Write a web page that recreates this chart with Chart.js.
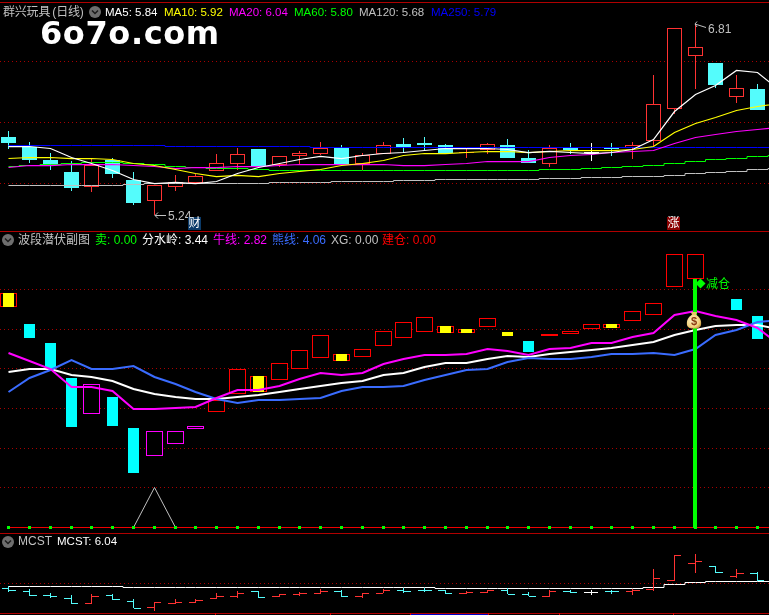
<!DOCTYPE html>
<html lang="zh">
<head>
<meta charset="utf-8">
<title>群兴玩具 日线</title>
<script src="https://cdn.jsdelivr.net/npm/chart.js@4"></script>
<style>
html,body{margin:0;padding:0;background:#000;overflow:hidden}
#stage{position:absolute;left:0;top:0;width:769px;height:615px;background:#000;overflow:hidden}
#stage canvas{position:absolute;left:0;display:block}
.t{position:absolute;white-space:pre;font:12px/14px "Liberation Sans","Noto Sans CJK SC",sans-serif;color:#c0c0c0}
.r1{font-size:11.5px}
.rule{position:absolute;left:0;width:769px;height:1px;background:#b00000}
svg{position:absolute;overflow:visible}
</style>
</head>
<body>
<div id="stage">
<canvas id="priceChart" width="769" height="231" style="top:0"></canvas>
<canvas id="waveChart" width="769" height="301" style="top:232px"></canvas>
<canvas id="mcstChart" width="769" height="79" style="top:534px"></canvas>

<div class="rule" style="top:2px"></div>
<div class="rule" style="top:231px"></div>
<div class="rule" style="top:533px"></div>
<div class="rule" style="top:613px"></div>

<div class="t" style="left:3px;top:5px;letter-spacing:-.2px;word-spacing:-1px">群兴玩具 (日线)</div>
<div class="t r1" style="left:105px;top:5px;color:#fff">MA5: 5.84</div>
<div class="t r1" style="left:164px;top:5px;color:#ff0">MA10: 5.92</div>
<div class="t r1" style="left:229px;top:5px;color:#f0f">MA20: 6.04</div>
<div class="t r1" style="left:294px;top:5px;color:#0f0">MA60: 5.80</div>
<div class="t r1" style="left:359px;top:5px;color:#c0c0c0">MA120: 5.68</div>
<div class="t r1" style="left:431px;top:5px;color:#0000ff">MA250: 5.79</div>

<div class="t" style="left:40px;top:13px;font:bold 32px/40px 'DejaVu Sans';letter-spacing:.6px;color:#fff">6o7o.com</div>

<div class="t" style="left:18px;top:233px">波段潜伏副图</div>
<div class="t" style="left:95px;top:233px;color:#0f0">卖: 0.00</div>
<div class="t" style="left:142px;top:233px;color:#fff">分水岭: 3.44</div>
<div class="t" style="left:213px;top:233px;color:#f0f">牛线: 2.82</div>
<div class="t" style="left:272px;top:233px;color:#3a6cff">熊线: 4.06</div>
<div class="t" style="left:331px;top:233px">XG: 0.00</div>
<div class="t" style="left:382px;top:233px;color:#f00">建仓: 0.00</div>

<div class="t" style="left:18px;top:534px">MCST</div>
<div class="t r1" style="left:57px;top:534px;color:#fff">MCST: 6.04</div>

<svg style="left:0;top:0" width="769" height="615">
  <g id="ic1" transform="translate(95,12)"><circle r="6" fill="#6e6e6e"/><path d="M-3 -1.5L0 1.5L3 -1.5" fill="none" stroke="#1c1c1c" stroke-width="1.5"/></g>
  <g transform="translate(8,240)"><circle r="6" fill="#6e6e6e"/><path d="M-3 -1.5L0 1.5L3 -1.5" fill="none" stroke="#1c1c1c" stroke-width="1.5"/></g>
  <g transform="translate(8,542)"><circle r="6" fill="#6e6e6e"/><path d="M-3 -1.5L0 1.5L3 -1.5" fill="none" stroke="#1c1c1c" stroke-width="1.5"/></g>
  <path d="M166 215.5H155M158 212.5L155 215.5L158 218.5" fill="none" stroke="#c0c0c0"/>
  <path d="M706 27.5L695 24M697 21.5L695 24L697 27" fill="none" stroke="#c0c0c0"/>
  <defs><radialGradient id="bagFill" cx=".4" cy=".4" r=".7"><stop offset="0" stop-color="#fff3c8"/><stop offset=".7" stop-color="#f2cf7a"/><stop offset="1" stop-color="#c08a30"/></radialGradient></defs>
  <g transform="translate(694,320)">
    <path d="M-3 -8L3 -8L2 -5L-2 -5Z" fill="#e9c46a"/>
    <path d="M-2.5 -5C-7 -2 -7.5 2 -7 5C-6.5 8 -3 8.5 0 8.5C3 8.5 6.5 8 7 5C7.5 2 7 -2 2.5 -5Z" fill="url(#bagFill)"/>
    <text x="0" y="4.5" text-anchor="middle" font-family="Liberation Sans" font-weight="bold" font-size="11" fill="#8a3b12">$</text>
  </g>
</svg>

<div class="t" style="left:168px;top:209px">5.24</div>
<div class="t" style="left:708px;top:22px">6.81</div>
<div class="t" style="left:188px;top:217px;width:13px;height:13px;background:#0b3a68;color:#fff;text-align:center;line-height:13px">财</div>
<div class="t" style="left:667px;top:217px;width:13px;height:13px;background:#8b0000;color:#fff;text-align:center;line-height:13px">涨</div>
<div class="t" style="left:706px;top:277px;color:#0f0">减仓</div>

<div style="position:absolute;left:411px;top:614px;width:77px;height:1px;background:#0000c8"></div>
<div style="position:absolute;left:215px;top:613px;width:1px;height:2px;background:#e00000"></div>
<div style="position:absolute;left:330px;top:613px;width:1px;height:2px;background:#e00000"></div>
<div style="position:absolute;left:410px;top:613px;width:1px;height:2px;background:#e00000"></div>
<div style="position:absolute;left:488px;top:613px;width:1px;height:2px;background:#e00000"></div>
<div style="position:absolute;left:559px;top:613px;width:1px;height:2px;background:#e00000"></div>
<div style="position:absolute;left:673px;top:613px;width:1px;height:2px;background:#e00000"></div>
</div>

<script>
// ---------- daily candles ----------
const open  = [5.880,5.801,5.692,5.593,5.473,5.692,5.527,5.358,5.473,5.500,5.604,5.661,5.782,5.651,5.727,5.744,5.790,5.659,5.738,5.823,5.831,5.815,5.746,5.774,5.815,5.708,5.661,5.790,5.755,5.790,5.787,5.845,6.108,6.548,6.488,6.212,6.275];
const high  = [5.930,5.839,5.746,5.681,5.703,5.705,5.590,5.484,5.568,5.579,5.741,5.790,5.782,5.722,5.765,5.839,5.812,5.746,5.839,5.872,5.880,5.823,5.782,5.831,5.864,5.774,5.815,5.831,5.831,5.831,5.839,6.389,6.773,6.810,6.488,6.389,6.316];
const low   = [5.779,5.670,5.609,5.437,5.432,5.544,5.322,5.240,5.440,5.500,5.604,5.609,5.623,5.637,5.659,5.730,5.659,5.609,5.738,5.746,5.774,5.746,5.708,5.741,5.708,5.667,5.634,5.741,5.683,5.724,5.700,5.809,6.069,6.275,6.283,6.160,6.102];
const close = [5.830,5.692,5.659,5.462,5.648,5.577,5.339,5.484,5.508,5.557,5.664,5.738,5.642,5.722,5.746,5.787,5.659,5.730,5.812,5.798,5.815,5.746,5.755,5.820,5.708,5.667,5.790,5.774,5.755,5.782,5.812,6.149,6.773,6.617,6.307,6.280,6.102];

// ---------- moving averages ----------
const ma5   = [5.798,5.798,5.787,5.713,5.659,5.604,5.533,5.497,5.503,5.495,5.511,5.582,5.629,5.659,5.697,5.719,5.705,5.730,5.744,5.752,5.768,5.785,5.787,5.785,5.774,5.749,5.757,5.755,5.746,5.755,5.776,5.861,6.088,6.228,6.302,6.425,6.411,6.266];
const ma10  = [5.705,5.713,5.711,5.703,5.703,5.692,5.664,5.645,5.609,5.579,5.557,5.566,5.557,5.582,5.596,5.615,5.645,5.664,5.689,5.724,5.744,5.746,5.755,5.763,5.760,5.752,5.757,5.768,5.771,5.765,5.774,5.798,5.916,5.987,6.039,6.094,6.127,6.157];
const ma20  = [5.631,5.642,5.648,5.651,5.656,5.656,5.645,5.634,5.623,5.626,5.629,5.640,5.640,5.648,5.656,5.656,5.656,5.656,5.656,5.648,5.648,5.656,5.661,5.681,5.681,5.681,5.708,5.727,5.738,5.749,5.757,5.768,5.828,5.875,5.897,5.921,5.941,5.960];
const ma60  = [5.640,5.648,5.656,5.664,5.670,5.670,5.661,5.651,5.640,5.629,5.623,5.623,5.615,5.607,5.607,5.607,5.607,5.607,5.607,5.607,5.607,5.607,5.607,5.607,5.607,5.607,5.615,5.615,5.623,5.631,5.640,5.648,5.664,5.681,5.694,5.705,5.719,5.730];
const ma120 = [5.484,5.484,5.484,5.484,5.484,5.484,5.492,5.500,5.500,5.500,5.500,5.500,5.500,5.505,5.505,5.505,5.514,5.514,5.514,5.522,5.522,5.530,5.530,5.530,5.530,5.530,5.538,5.538,5.547,5.547,5.555,5.555,5.563,5.579,5.590,5.599,5.609,5.618];
const ma250 = [5.812,5.812,5.812,5.812,5.812,5.812,5.812,5.812,5.804,5.804,5.804,5.804,5.804,5.804,5.804,5.796,5.796,5.796,5.796,5.796,5.796,5.796,5.796,5.796,5.796,5.796,5.796,5.796,5.796,5.796,5.796,5.796,5.796,5.796,5.796,5.796,5.796,5.796];

// ---------- 波段潜伏副图 ----------
const waveTop    = [5.906,5.125,4.646,3.764,3.605,3.285,2.503,2.445,2.445,2.571,3.209,3.983,3.814,4.159,4.487,4.865,4.386,4.512,4.966,5.168,5.294,5.067,4.999,5.269,4.923,4.696,4.890,4.966,5.142,5.142,5.445,5.647,6.907,6.907,null,5.755,5.326];
const waveBottom = [5.561,4.772,4.016,2.528,2.864,2.554,1.369,1.805,2.107,2.490,2.924,3.368,3.418,3.706,3.983,4.275,4.200,4.300,4.578,4.779,4.931,4.906,4.906,5.057,4.822,4.419,4.830,4.880,5.006,5.032,5.208,5.359,6.065,6.267,null,5.478,4.747];
const waveKinds  = ['ry','c','c','c','m','c','c','m','m','m','r','r','ry','r','r','r','ry','r','r','r','r','ry','ry','r','y','c','r','r','r','ry','r','r','r','r','','c','c'];
const watershed  = [3.922,3.998,3.983,3.839,3.789,3.695,3.486,3.368,3.302,3.234,3.227,3.302,3.335,3.418,3.486,3.562,3.638,3.695,3.832,3.897,4.041,4.142,4.159,4.260,4.311,4.300,4.369,4.419,4.487,4.520,4.613,4.671,4.840,4.991,5.074,5.107,5.100,5.016];
const bullLine   = [4.411,4.200,4.008,3.554,3.544,3.436,2.990,2.990,3.007,3.040,3.252,3.461,3.461,3.569,3.731,3.897,3.832,3.897,4.109,4.235,4.343,4.351,4.386,4.502,4.444,4.351,4.495,4.537,4.646,4.653,4.805,4.905,5.359,5.460,5.326,5.226,5.032,4.638];
const bearLine   = [3.411,3.781,3.978,4.217,3.998,3.998,4.059,3.796,3.612,3.411,3.234,3.133,3.209,3.209,3.227,3.267,3.443,3.537,3.544,3.562,3.721,3.847,3.958,3.998,4.174,4.268,4.250,4.250,4.293,4.369,4.376,4.401,4.343,4.502,4.840,4.974,5.168,5.226];
const xgLine     = [0,0,0,0,0,0,0,1,0,0,0,0,0,0,0,0,0,0,0,0,0,0,0,0,0,0,0,0,0,0,0,0,0,0,0,0,0,0];
const sellSignal = [0,0,0,0,0,0,0,0,0,0,0,0,0,0,0,0,0,0,0,0,0,0,0,0,0,0,0,0,0,0,0,0,0,0,0,0,0];
const buildLine  = [0,0,0,0,0,0,0,0,0,0,0,0,0,0,0,0,0,0,0,0,0,0,0,0,0,0,0,0,0,0,0,0,0,0,0,0,0,0];
const reduceIndex = 33, reduceBarTop = 6.267, reduceMarkX = 33.25, reduceMarkY = 6.15;

// ---------- MCST ----------
const mcst = [5.909,5.909,5.909,5.909,5.909,5.909,5.882,5.882,5.882,5.882,5.882,5.882,5.882,5.882,5.882,5.882,5.882,5.882,5.882,5.882,5.882,5.855,5.855,5.855,5.855,5.855,5.855,5.855,5.855,5.855,5.855,5.882,5.964,6.018,6.045,6.045,6.045,6.045];

// ---------- axis ticks ----------
const priceGrid = [5.5,6,6.5];
const waveGrid  = [1,2,3,4,5,6];
const mcstGrid  = [6];

const RED='#ff3232', CYAN='#54fcfc', WHITE='#ffffff', GRID='#a80000';
const candleColor = i => close[i]>open[i] ? RED : close[i]<open[i] ? CYAN : WHITE;

// keep marks on whole pixels, like the terminal draws them
const snapPlugin = {
  id:'snap',
  afterDatasetsUpdate(chart){
    chart.data.datasets.forEach((ds,k)=>{
      const meta = chart.getDatasetMeta(k);
      meta.data.forEach(el=>{
        if (ds.type==='bar'){
          const w = ds.barThickness;
          const left = Math.floor(el.x) - Math.floor(w/2);
          el.width = w;
          el.x = left + w/2;
          el.y = Math.round(el.y);
          el.base = Math.round(el.base);
          if (el.base===el.y) el.base = el.y+1;
        } else {
          el.x = Math.floor(el.x)+.5;
          el.y = (ds.borderWidth<2) ? Math.floor(el.y)+.5 : Math.round(el.y);
        }
      });
    });
  }
};

const xMin = -0.4183, xMax = 36.553;
const baseOptions = (yMin,yMax,grid)=>({
  responsive:false, animation:false, events:[],
  layout:{padding:0,autoPadding:false},
  plugins:{legend:{display:false},tooltip:{enabled:false}},
  scales:{
    x:{type:'linear',min:xMin,max:xMax,offset:false,display:false},
    y:{type:'linear',min:yMin,max:yMax,stacked:false,
       afterBuildTicks:s=>{s.ticks=grid.map(value=>({value}));},
       afterFit:s=>{s.width=0;},
       ticks:{display:false},
       grid:{color:GRID,lineWidth:1,drawTicks:false},
       border:{display:false,dash:[1,3]}}
  }
});
const line = (label,values,color,width,order,stepped)=>({
  type:'line',label,data:values.map((y,x)=>({x,y})),borderColor:color,borderWidth:width,
  pointRadius:0,tension:0,fill:false,order,spanGaps:false,stepped:stepped?'middle':false
});
const bar = (label,data,width,fill,stroke,order)=>({
  type:'bar',label,data,grouped:false,barThickness:width,order,
  backgroundColor:fill,borderColor:stroke,borderWidth:stroke?1:0,borderSkipped:false,inflateAmount:0
});

// price panel
new Chart(document.getElementById('priceChart'),{
  type:'bar',
  data:{datasets:[
    bar('wick',open.map((_,i)=>({x:i,y:[low[i],high[i]]})),1,open.map((_,i)=>candleColor(i)),null,9),
    bar('body',open.map((o,i)=>({x:i,y:[o,close[i]]})),15,open.map((_,i)=>close[i]>open[i]?'#000':candleColor(i)),open.map((_,i)=>candleColor(i)),8),
    line('MA250',ma250,'#0000ff',1,6,true),
    line('MA120',ma120,'#c0c0c0',1,5,true),
    line('MA60',ma60,'#00ff00',1,4,true),
    line('MA20',ma20,'#ff00ff',1.25,3),
    line('MA10',ma10,'#ffff00',1.25,2),
    line('MA5',ma5,'#ffffff',1.25,1)
  ]},
  options:baseOptions(5.108,7.005,priceGrid),
  plugins:[snapPlugin]
});

// wave panel
const kindRows = kinds => waveKinds.map((k,i)=>kinds.includes(k)?{x:i,y:[waveBottom[i],waveTop[i]]}:null).filter(Boolean);
new Chart(document.getElementById('waveChart'),{
  type:'bar',
  data:{datasets:[
    bar('redBox',kindRows(['r','ry']),17,'#000','#ff0000',9),
    bar('magentaBox',kindRows(['m']),17,'#000','#ff00ff',9),
    bar('cyanBar',kindRows(['c']),11,'#00ffff',null,8),
    bar('yellowBar',kindRows(['y','ry']),11,'#ffff00',null,8),
    line('XG',xgLine,'#c0c0c0',1,7),
    line('建仓',buildLine,'#f00000',1,6),
    {type:'line',label:'卖',data:sellSignal.map((y,x)=>({x,y})),showLine:false,pointStyle:'rect',pointRadius:2.13,
     pointBackgroundColor:'#00ff00',pointBorderWidth:0,borderWidth:1,order:5},
    line('分水岭',watershed,'#ffffff',2,4),
    line('熊线',bearLine,'#3a6cff',2,3),
    line('牛线',bullLine,'#ff00ff',2,2),
    bar('减仓柱',[{x:reduceIndex,y:[0,reduceBarTop]}],4,'#00ff00',null,1),
    {type:'line',label:'减仓',data:[{x:reduceMarkX,y:reduceMarkY}],showLine:false,pointStyle:'rectRot',pointRadius:5,
     pointBackgroundColor:'#00ff00',pointBorderWidth:0,borderWidth:1,order:0}
  ]},
  options:baseOptions(-0.1386,7.449,waveGrid),
  plugins:[snapPlugin]
});

// MCST panel
const tickOffset = 3.5/20.8;
new Chart(document.getElementById('mcstChart'),{
  type:'bar',
  data:{datasets:[
    line('MCST',mcst,'#ffffff',1,5,true),
    bar('range',open.map((_,i)=>({x:i,y:[low[i],high[i]]})),1,open.map((_,i)=>candleColor(i)),null,2),
    bar('open',open.map((o,i)=>({x:i-tickOffset,y:[o,o]})),7,open.map((_,i)=>candleColor(i)),null,1),
    bar('close',close.map((c,i)=>({x:i+tickOffset,y:[c,c]})),7,open.map((_,i)=>candleColor(i)),null,1)
  ]},
  options:baseOptions(5.196,7.349,mcstGrid),
  plugins:[snapPlugin]
});
</script>
</body>
</html>
